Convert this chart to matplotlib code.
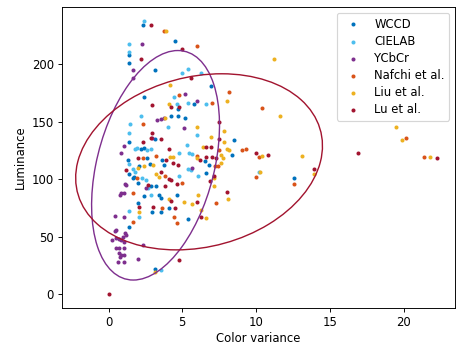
import numpy as np
import matplotlib
matplotlib.use("Agg")
import matplotlib.pyplot as plt
from matplotlib.patches import Ellipse

# values (color variance, luminance)
wccd_x = [2.37, 1.42, 1.42, 4.54, 3.12, 2.44, 4.68, 4.27, 4.68, 5.22, 6.98, 5.83, 8.54, 8.34,
          6.51, 6.78, 6.58, 12.6, 5.42, 1.42, 2.17, 2.44, 3.12, 1.29, 2.58, 3.66, 2.10, 2.78,
          3.73, 1.42, 1.63, 1.76, 2.03, 2.85, 3.25, 2.44, 3.39, 3.59, 4.61, 2.03, 4.07, 2.98,
          3.59, 1.42, 3.12]
wccd_y = [234, 208, 201, 220, 195, 171, 161, 155, 155, 153, 181, 165, 134, 121,
          116, 112, 105, 101, 65, 132, 126, 127, 135, 117, 118, 117, 111, 113,
          112, 104, 101, 102, 97, 94, 94, 85, 86, 84, 86, 79, 75, 71,
          71, 58, 22]

cielab_x = [2.44, 1.42, 1.42, 4.95, 4.47, 4.61, 5.42, 6.24, 5.42, 6.58, 5.97, 5.49, 5.63,
            5.36, 5.56, 6.10, 10.2, 1.49, 1.42, 1.83, 2.85, 4.75, 1.36, 1.69, 1.83, 2.24,
            2.51, 4.75, 2.71, 2.85, 2.10, 3.59, 1.36, 2.17, 4.00, 5.29, 1.90, 2.58]
cielab_y = [237, 217, 210, 192, 171, 165, 196, 192, 166, 165, 138, 123, 122,
            109, 108, 103, 106, 148, 140, 126, 126, 123, 113, 109, 106, 101,
            99, 103, 92, 86, 67, 21, 72, 155, 145, 130, 127, 125]

ycbcr_x = [2.24, 1.69, 1.63, 5.22, 5.97, 3.32, 3.53, 3.73, 2.98, 1.02, 0.88, 5.63, 1.15,
           1.22, 2.51, 0.75, 0.88, 1.02, 0.41, 1.08, 0.54, 0.41, 0.54, 0.27, 0.68, 0.95,
           1.22, 1.15, 0.88, 1.02, 0.54, 0.68, 1.02, 0.68, 0.88, 1.08, 0.81, 0.61, 1.02,
           1.97, 2.31, 5.15]
ycbcr_y = [217, 195, 188, 174, 168, 151, 152, 153, 136, 129, 123, 110, 96,
           95, 92, 86, 88, 88, 68, 67, 55.5, 54.6, 48.6, 46.8, 47.7, 49.4,
           51.2, 52.9, 46.8, 45.1, 39.9, 39.9, 39.9, 35.6, 33.8, 33.8, 32.1, 27.8, 27.8,
           30.4, 42.5, 144]

nafchi_x = [3.73, 5.97, 8.20, 7.05, 10.44, 9.02, 9.29, 10.17, 9.97, 12.6, 21.4, 20.2, 7.46,
            6.03, 7.19, 7.39, 7.32, 2.37, 3.25, 2.31, 3.86, 1.90, 4.95, 1.63, 3.66, 1.69,
            4.47, 4.61, 4.81]
nafchi_y = [229, 216, 176, 166, 162, 125, 126, 119, 102, 96, 119, 136, 125,
            120, 111, 111, 79, 148, 120, 118, 103, 101, 97, 88, 75, 63,
            67, 62, 173]

liu_x = [3.93, 4.14, 8.00, 11.25, 11.66, 19.5, 19.9, 21.8, 10.44, 13.1, 13.9, 10.24, 6.03,
         6.98, 7.86, 7.86, 8.00, 8.20, 6.44, 7.66, 7.73, 5.97, 7.66, 7.12, 7.12, 8.07, 6.10,
         5.63, 6.24, 6.58, 4.07, 3.86, 4.14, 4.34, 2.44, 1.97, 3.05, 3.19, 3.39, 4.07, 5.15,
         2.10, 3.12]
liu_y = [229, 182, 168, 204, 155, 145, 134, 119, 120, 120, 104, 106, 145,
         137, 142, 132, 126, 125, 127.5, 121, 118, 118, 114, 101, 94, 83, 86,
         78, 73, 66, 165, 153, 119, 119, 111, 110, 112, 104, 101.5, 83, 80,
         71, 19]

lu_x = [2.85, 4.95, 2.17, 5.56, 2.98, 4.27, 4.81, 7.46, 7.46, 6.58, 6.98, 6.17, 6.64, 7.05,
        7.32, 7.12, 6.85, 8.00, 5.97, 6.30, 10.03, 10.78, 13.9, 16.9, 22.3, 2.92, 2.85, 3.53,
        2.31, 4.07, 1.97, 3.93, 4.34, 4.68, 1.22, 3.53, 4.07, 4.27, 2.71, 3.86, 4.61, 4.27,
        2.10, 3.05, 4.54, 4.81, 0.0]
lu_y = [234, 213, 204, 188, 164, 163, 163, 150, 135, 128, 127.5, 117, 119, 119,
        118, 103, 98, 88.5, 80, 67, 123, 120.6, 109, 123, 118, 140, 136, 135,
        132, 126, 118, 117, 114, 112, 107.5, 106, 100, 99, 95, 94, 96, 81,
        76, 75.5, 74.6, 29.5, 0]

names = ["WCCD", "CIELAB", "YCbCr", "Nafchi et al.", "Liu et al.", "Lu et al."]
colors = ["#0072BD", "#4DBEEE", "#7E2F8E", "#D95319", "#EDB120", "#A2142F"]
series_x = [wccd_x, cielab_x, ycbcr_x, nafchi_x, liu_x, lu_x]
series_y = [wccd_y, cielab_y, ycbcr_y, nafchi_y, liu_y, lu_y]

# spread ellipses (center, covariance) for YCbCr and Lu et al.
ycbcr_center = (3.19, 112.0)
ycbcr_cov = [[18.8, 150.6], [150.6, 9940.0]]
lu_center = (6.14, 115.0)
lu_cov = [[70.0, 117.0], [117.0, 5852.0]]


def cov_ellipse(center, cov, color):
    vals, vecs = np.linalg.eigh(np.array(cov))
    angle = np.degrees(np.arctan2(vecs[1, 1], vecs[0, 1]))
    return Ellipse(center, 2 * np.sqrt(vals[1]), 2 * np.sqrt(vals[0]), angle=angle,
                   fill=False, edgecolor=color, linewidth=1.2)


dpi = 84
fig = plt.figure(figsize=(463 / dpi, 351 / dpi), dpi=dpi)
ax = fig.add_axes([0.134, 0.1225, 0.849, 0.8575])

for xs, ys, name, c in zip(series_x, series_y, names, colors):
    ax.scatter(xs, ys, s=12, color=c, linewidths=0, label=name)

ax.add_patch(cov_ellipse(ycbcr_center, ycbcr_cov, colors[2]))
ax.add_patch(cov_ellipse(lu_center, lu_cov, colors[5]))

ax.set_xlim(-3.15, 23.5)
ax.set_ylim(-12, 249.5)
ax.set_xticks([0, 5, 10, 15, 20])
ax.set_yticks([0, 50, 100, 150, 200])
ax.set_xlabel("Color variance", labelpad=2)
ax.set_ylabel("Luminance")
ax.legend(loc="upper right", labelspacing=0.35)

fig.savefig("out.png", dpi=dpi)
